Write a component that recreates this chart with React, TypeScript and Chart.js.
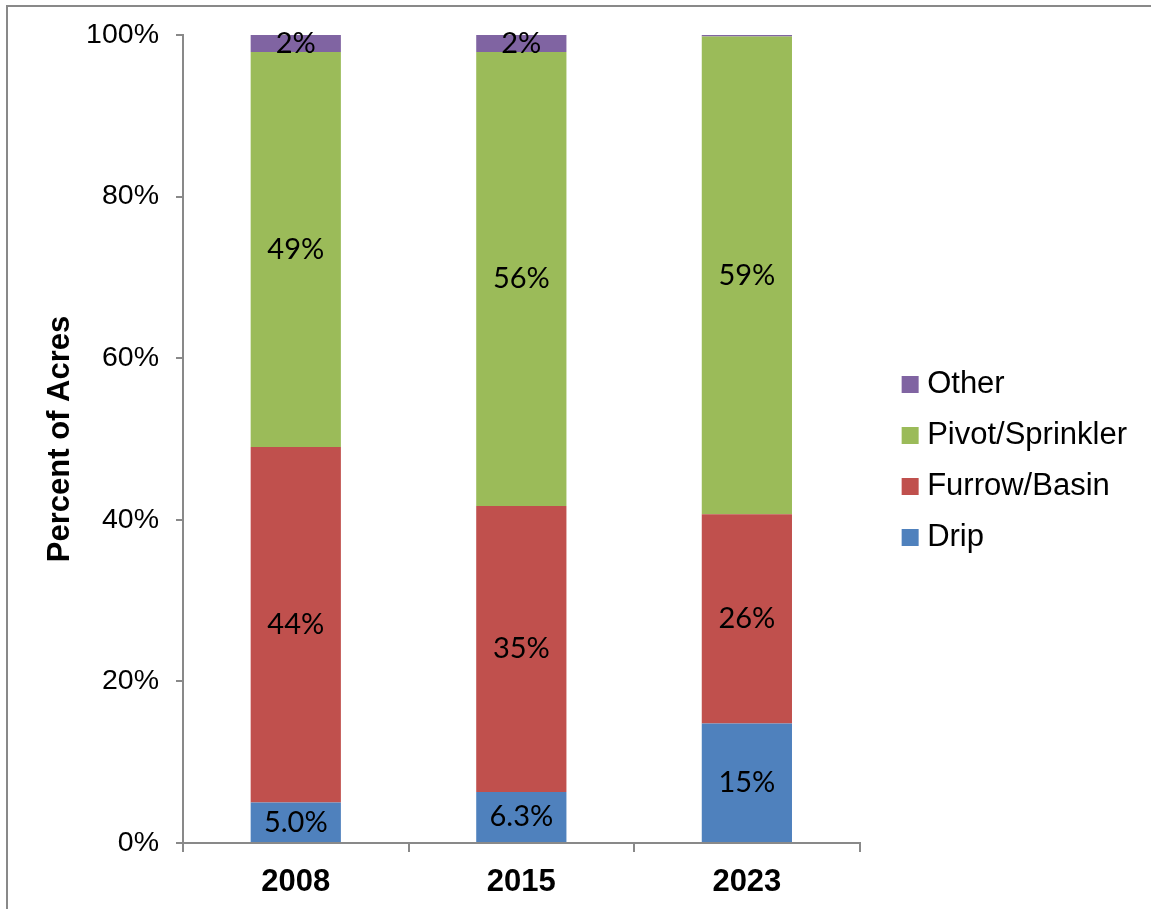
import React, { useEffect, useRef } from "react";
import { Chart, registerables } from "chart.js";

Chart.register(...registerables);

// ---- data ----
const years = ["2008", "2015", "2023"];
const seriesNames = ["Drip", "Furrow/Basin", "Pivot/Sprinkler", "Other"];
const drip = [5.0, 6.3, 14.8];
const furrow = [44.0, 35.4, 25.9];
const pivot = [48.9, 56.2, 59.1];
const other = [2.1, 2.1, 0.2];
const dripLabels = ["5.0%", "6.3%", "15%"];
const furrowLabels = ["44%", "35%", "26%"];
const pivotLabels = ["49%", "56%", "59%"];
const otherLabels = ["2%", "2%", ""];
const yTickValues = [0, 20, 40, 60, 80, 100];

const colors = ["#4F81BD", "#C0504D", "#9BBB59", "#8064A2"];
const axisColor = "#898989";
const ARIAL = "'Liberation Sans', Arial, sans-serif";

const seriesValues = [drip, furrow, pivot, other];
const segmentLabels = [dripLabels, furrowLabels, pivotLabels, otherLabels];

const segLabelPlugin = {
  id: "segLabels",
  afterDatasetsDraw(chart: any) {
    const ctx = chart.ctx;
    ctx.save();
    ctx.font = "29px Lato, 'Open Sans', sans-serif";
    ctx.fillStyle = "#000";
    ctx.textAlign = "center";
    ctx.textBaseline = "middle";
    chart.data.datasets.forEach((_ds: any, i: number) => {
      const meta = chart.getDatasetMeta(i);
      meta.data.forEach((el: any, j: number) => {
        const t = segmentLabels[i][j];
        if (!t) return;
        const p = el.getProps(["x", "y", "base"], true);
        ctx.fillText(t, p.x, (p.y + p.base) / 2);
      });
    });
    ctx.restore();
  },
};

const LEGEND_DX = 29;
const LEGEND_DY = -11;
const legendShiftPlugin = {
  id: "legendShift",
  afterLayout(chart: any) {
    const l = chart.legend;
    if (!l) return;
    l.left += LEGEND_DX;
    l.right += LEGEND_DX;
    l.top += LEGEND_DY;
    l.bottom += LEGEND_DY;
  },
};

export default function App() {
  const ref = useRef<HTMLCanvasElement | null>(null);

  useEffect(() => {
    if (!ref.current) return;
    const chart = new Chart(ref.current, {
      type: "bar",
      data: {
        labels: years,
        datasets: seriesValues.map((vals, i) => ({
          label: seriesNames[i],
          data: vals,
          backgroundColor: colors[i],
          borderWidth: 0,
          categoryPercentage: 0.4,
          barPercentage: 1,
        })),
      },
      options: {
        animation: false,
        responsive: false,
        devicePixelRatio: 1,
        layout: { padding: { left: 0, top: 35, right: 43, bottom: 0 } },
        plugins: {
          tooltip: { enabled: false },
          legend: {
            position: "right",
            reverse: true,
            labels: {
              usePointStyle: true,
              pointStyle: "rect",
              boxWidth: 3,
              boxHeight: 17,
              padding: 20,
              color: "#000",
              font: { family: ARIAL, size: 31 },
            },
          },
        },
        scales: {
          x: {
            stacked: true,
            afterFit: (s: any) => {
              s.height = 66;
            },
            grid: {
              display: true,
              drawOnChartArea: false,
              drawTicks: true,
              tickLength: 9,
              color: axisColor,
              lineWidth: 2,
              offset: true,
            },
            border: { display: true, color: axisColor, width: 2 },
            ticks: {
              color: "#000",
              padding: 12,
              font: { family: ARIAL, size: 31, weight: "bold" },
            },
          },
          y: {
            stacked: true,
            min: 0,
            max: 100,
            afterFit: (s: any) => {
              s.width = 183;
            },
            afterBuildTicks: (s: any) => {
              s.ticks = yTickValues.map((v) => ({ value: v }));
            },
            grid: {
              display: true,
              drawOnChartArea: false,
              drawTicks: true,
              tickLength: 7,
              color: axisColor,
              lineWidth: 2,
            },
            border: { display: true, color: axisColor, width: 2 },
            ticks: {
              color: "#000",
              padding: 17,
              font: { family: ARIAL, size: 28.5 },
              callback: (v: any) => v + "%",
            },
            title: {
              display: true,
              text: "Percent of Acres",
              color: "#000",
              font: { family: ARIAL, size: 31, weight: "bold", lineHeight: 1 },
              padding: { top: 45, bottom: 0 },
            },
          },
        },
      },
      plugins: [segLabelPlugin, legendShiftPlugin],
    });
    return () => chart.destroy();
  }, []);

  return (
    <div
      style={{
        position: "absolute",
        left: 0,
        top: 0,
        width: 1151,
        height: 909,
        overflow: "hidden",
        background: "#fff",
      }}
    >
      <div
        style={{
          position: "absolute",
          left: 6,
          top: 5,
          width: 1300,
          height: 1100,
          borderLeft: `2px solid ${axisColor}`,
          borderTop: `2px solid ${axisColor}`,
        }}
      />
      <canvas
        ref={ref}
        width={1151}
        height={909}
        style={{ position: "absolute", left: 0, top: 0, width: 1151, height: 909 }}
      />
    </div>
  );
}
